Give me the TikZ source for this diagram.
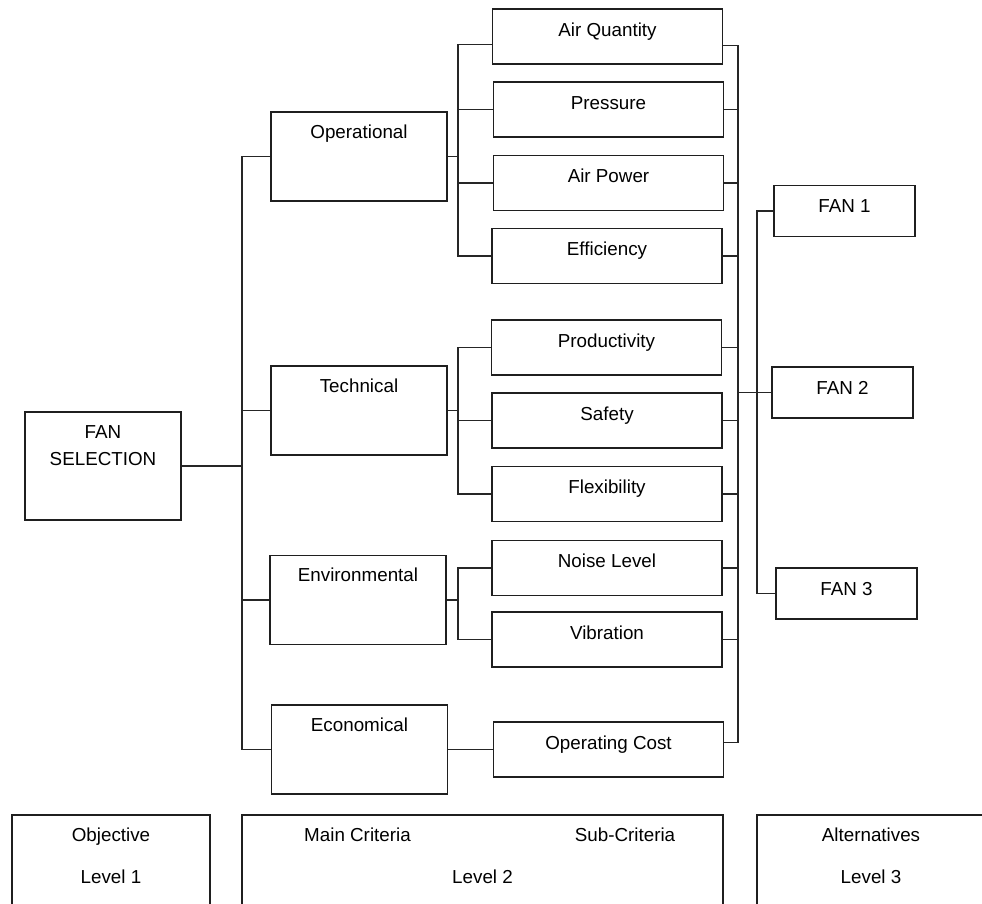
\documentclass[tikz,border=0pt]{standalone}
\usepackage{fontspec}
\setmainfont{Liberation Sans}
\usetikzlibrary{calc}

\begin{document}
\begin{tikzpicture}[x=1pt,y=-1pt,
  box/.style={draw=black!88, line width=1.9pt, inner sep=0pt, font=\fontsize{18.8}{27}\selectfont},
  mainbox/.style={box, minimum width=176pt, text height=26pt, text depth=63pt},
  subbox/.style={box, minimum width=230pt, text height=27pt, text depth=28pt},
  fanbox/.style={box, minimum width=141pt, text height=27pt, text depth=24pt},
  levelbox/.style={box, minimum height=100pt},
  link/.style={draw=black!85, line width=1.3pt},
  lbl/.style={anchor=base, inner sep=0pt, font=\fontsize{18.8}{27}\selectfont}]

\useasboundingbox (0,0) rectangle (982,903);

% define the objective and the main criteria
  \node[box, minimum width=156pt, align=center, text height=53pt, text depth=55pt] (goal) at (103,466) {FAN\\SELECTION};
  \node[mainbox] (op)   at (359,156.5) {Operational};
  \node[mainbox] (tech) at (359,410.5) {Technical};
  \node[mainbox] (env)  at (358,600)   {Environmental};
  \node[mainbox] (econ) at (359.5,749.5) {Economical};

% define the sub-criteria
  \node[subbox] (aq) at (607.5,36.5)  {Air Quantity};
  \node[subbox] (pr) at (608.5,109.5) {Pressure};
  \node[subbox] (ap) at (608.5,183)   {Air Power};
  \node[subbox] (ef) at (607,256)     {Efficiency};
  \node[subbox] (pd) at (606.5,347.5) {Productivity};
  \node[subbox] (sf) at (607,420.5)   {Safety};
  \node[subbox] (fl) at (607,494)     {Flexibility};
  \node[subbox] (nl) at (607,568)     {Noise Level};
  \node[subbox] (vb) at (607,639.5)   {Vibration};
  \node[subbox] (oc) at (608.5,749.5) {Operating Cost};

% define the alternatives
  \node[fanbox] (f1) at (844.5,211)   {FAN 1};
  \node[fanbox] (f2) at (842.5,392.5) {FAN 2};
  \node[fanbox] (f3) at (846.5,593.5) {FAN 3};

% the level boxes at the bottom
  \node[levelbox, minimum width=198pt] (lvl1) at (111,865)   {};
  \node[levelbox, minimum width=481pt] (lvl2) at (482.5,865) {};
  \node[levelbox, minimum width=228pt] (lvl3) at (871,865)   {};
  \node[lbl] at ([yshift=-27pt]lvl1.north) {Objective};
  \node[lbl] at ([yshift=-69pt]lvl1.north) {Level 1};
  \node[lbl] at ([xshift=-125pt,yshift=-27pt]lvl2.north) {Main Criteria};
  \node[lbl] at ([xshift=142.5pt,yshift=-27pt]lvl2.north) {Sub-Criteria};
  \node[lbl] at ([yshift=-69pt]lvl2.north) {Level 2};
  \node[lbl] at ([yshift=-27pt]lvl3.north) {Alternatives};
  \node[lbl] at ([yshift=-69pt]lvl3.north) {Level 3};

% the vertical buses
  \coordinate (busA) at (242,0);
  \coordinate (busB) at (458,0);
  \coordinate (busC) at (738,0);
  \coordinate (busD) at (757,0);

% define the links: objective to main criteria
  \draw[link] (goal.east) -- (goal.east -| busA);
  \draw[link] (op.west) -- (op.west -| busA) -- (econ.west -| busA) -- (econ.west);
  \draw[link] (tech.west) -- (tech.west -| busA);
  \draw[link] (env.west) -- (env.west -| busA);

% main criteria to sub-criteria
  \draw[link] (op.east) -- (op.east -| busB);
  \draw[link] ([yshift=-8pt]aq.west) -| (ef.west -| busB) -- (ef.west);
  \draw[link] (pr.west) -- (pr.west -| busB);
  \draw[link] (ap.west) -- (ap.west -| busB);

  \draw[link] (tech.east) -- (tech.east -| busB);
  \draw[link] (pd.west) -| (fl.west -| busB) -- (fl.west);
  \draw[link] (sf.west) -- (sf.west -| busB);

  \draw[link] (env.east) -- (env.east -| busB);
  \draw[link] (nl.west) -| (vb.west -| busB) -- (vb.west);

  \draw[link] (econ.east) -- (oc.west);

% sub-criteria to alternatives
  \draw[link] ([yshift=-9pt]aq.east) -| ([yshift=7pt]oc.east -| busC) -- ([yshift=7pt]oc.east);
  \foreach \n in {pr,ap,ef,pd,sf,fl,nl,vb}
    \draw[link] (\n.east) -- (\n.east -| busC);
  \draw[link] (f2.west -| busC) -- (f2.west);
  \draw[link] (f1.west) -| (f3.west -| busD) -- (f3.west);

\end{tikzpicture}
\end{document}
